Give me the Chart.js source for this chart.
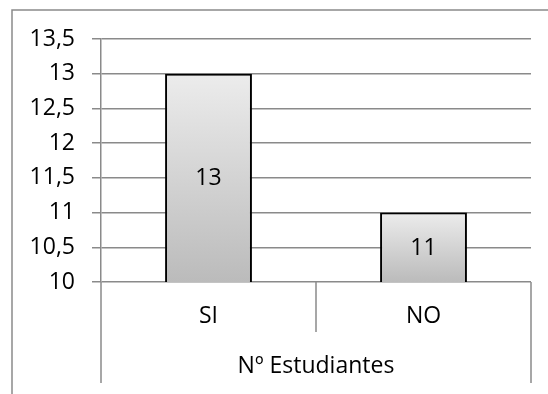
<!DOCTYPE html>
<html><head><meta charset="utf-8">
<script src="https://cdn.jsdelivr.net/npm/chart.js@4"></script>
<style>html,body{margin:0;padding:0;background:#fff}#wrap{position:relative;width:548px;height:394px}</style>
</head><body><div id="wrap"><canvas id="c" width="548" height="394"></canvas></div>
<script>
const categories = ['SI', 'NO'];
const values = [13, 11];
const axisTitle = 'Nº Estudiantes';
const yMin = 10, yMax = 13.5, yStep = 0.5;

const FONT = "'Open Sans', sans-serif";
const FS = 23;
const GRID = '#8a8a8a';
const TEXT = '#000000';

const framePlugin = {
  id: 'frame',
  beforeDraw(chart) {
    const c = chart.ctx;
    c.save();
    c.fillStyle = '#fff';
    c.fillRect(0, 0, chart.width, chart.height);
    c.strokeStyle = GRID;
    c.lineWidth = 1.5;
    c.beginPath();
    c.moveTo(12, chart.height + 2);
    c.lineTo(12, 10);
    c.lineTo(chart.width + 2, 10);
    c.stroke();
    c.restore();
  }
};

const shadowPlugin = {
  id: 'barShadow',
  beforeDatasetsDraw(chart) {
    const c = chart.ctx;
    c.save();
    c.shadowColor = 'rgba(0,0,0,0.30)';
    c.shadowBlur = 3;
    c.shadowOffsetX = 2;
    c.shadowOffsetY = 1;
  },
  afterDatasetsDraw(chart) {
    chart.ctx.restore();
  }
};

const decorPlugin = {
  id: 'decor',
  afterDraw(chart) {
    const c = chart.ctx;
    const ca = chart.chartArea;
    const xs = chart.scales.x;
    const ys = chart.scales.y;
    c.save();
    c.strokeStyle = GRID;
    c.lineWidth = 1.5;
    c.beginPath();
    [ca.left, ca.right].forEach(x => {
      c.moveTo(x, ca.bottom);
      c.lineTo(x, xs.bottom - 11);
    });
    for (let i = 1; i < categories.length; i++) {
      const x = (xs.getPixelForTick(i - 1) + xs.getPixelForTick(i)) / 2;
      c.moveTo(x, ca.bottom);
      c.lineTo(x, ca.bottom + 50);
    }
    c.stroke();
    c.restore();

    c.save();
    c.shadowColor = 'rgba(0,0,0,0)';
    c.globalAlpha = 1;
    c.font = FS + 'px ' + FONT;
    c.fillStyle = TEXT;
    c.textAlign = 'center';
    c.textBaseline = 'middle';
    for (let i = 0; i < values.length; i++) {
      const bx = xs.getPixelForValue(i);
      const mid = (ys.getPixelForValue(values[i]) + ys.getPixelForValue(yMin)) / 2;
      c.fillText(String(values[i]), bx, mid + 1);
    }
    c.restore();
  }
};

new Chart(document.getElementById('c'), {
  type: 'bar',
  data: {
    labels: categories,
    datasets: [{
      data: values,
      backgroundColor: (ctx) => {
        const chart = ctx.chart;
        if (!chart.chartArea || ctx.type !== 'data') return '#d4d4d4';
        const ys = chart.scales.y;
        const top = ys.getPixelForValue(ctx.parsed.y);
        const bot = ys.getPixelForValue(yMin);
        const g = chart.ctx.createLinearGradient(0, top, 0, bot);
        g.addColorStop(0, '#ececec');
        g.addColorStop(1, '#bbbbbb');
        return g;
      },
      borderColor: '#000',
      borderWidth: 2,
      borderSkipped: false,
      categoryPercentage: 1,
      barPercentage: 0.404
    }]
  },
  options: {
    responsive: false,
    animation: false,
    devicePixelRatio: 1,
    layout: { padding: { left: 0, top: 39, right: 17, bottom: 0 } },
    plugins: { legend: { display: false }, tooltip: { enabled: false } },
    scales: {
      x: {
        grid: { display: false, drawTicks: false },
        border: { display: false },
        ticks: { font: { family: FONT, size: FS }, color: TEXT, padding: 21 },
        title: { display: true, text: axisTitle, font: { family: FONT, size: FS }, color: TEXT, padding: { top: 0, bottom: 13.5 } },
        afterFit(s) { s.height = 112; }
      },
      y: {
        min: yMin, max: yMax,
        grid: { color: GRID, lineWidth: 1.5, tickLength: 9, drawTicks: true },
        border: { color: GRID, width: 1.5 },
        ticks: {
          stepSize: yStep,
          font: { family: FONT, size: FS }, color: TEXT, padding: 17,
          callback: (v) => String(v).replace('.', ',')
        },
        afterFit(s) { s.width = 101; }
      }
    }
  },
  plugins: [framePlugin, shadowPlugin, decorPlugin]
});
</script>
</body></html>
